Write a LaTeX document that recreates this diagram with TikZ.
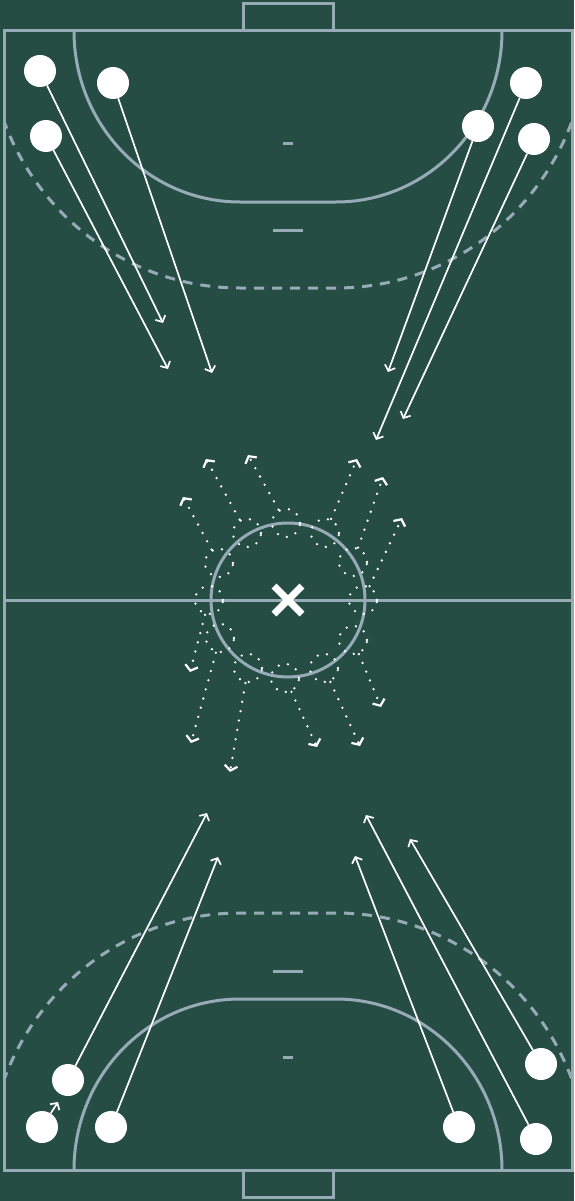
\documentclass[tikz,border=0pt]{standalone}
\usepackage{xcolor}
\usepackage{tikz}
\usetikzlibrary{arrows.meta}

\definecolor{pitch}{HTML}{264D43}
\definecolor{chalk}{HTML}{97ABB7}

\begin{document}
\begin{tikzpicture}[x=1pt, y=-1pt, court/.style={draw=chalk, line width=3pt}, nine/.style={court, dash pattern=on 10pt off 8pt}, player/.style={circle, fill=white, minimum size=32pt, inner sep=0pt}, run/.style={-{Straight Barb[length=5pt,width=11pt]}, draw=white, line width=1.7pt}, curl/.style={circle, draw=white, line width=2.6pt, line cap=round, dash pattern=on 0pt off 9.5pt, minimum size=28pt, inner sep=0pt}, dribble/.style={-{Straight Barb[length=5pt,width=13pt,line width=2.2pt]}, draw=white, line width=2.6pt, line cap=round, dash pattern=on 0pt off 9.5pt}]
\fill[pitch] (0,0) rectangle (574,1201);
\useasboundingbox (0,0) rectangle (574,1201);

% court
\draw[court] (4,31) rectangle (572,1170);
\draw[court] (243,31) -- (243,4) -- (333,4) -- (333,31);
\draw[court] (243,1170) -- (243,1197) -- (333,1197) -- (333,1170);
\draw[court] (4,600) -- (572,600);
\draw[court] (288,600) circle (77);
\draw[court] (74,31) arc[start angle=180, end angle=90, x radius=166, y radius=171] -- (336,202) arc[start angle=90, end angle=0, x radius=166, y radius=171];
\draw[court] (74,1170) arc[start angle=180, end angle=270, x radius=166, y radius=171] -- (336,999) arc[start angle=270, end angle=360, x radius=166, y radius=171];
\begin{scope}
\clip (4,31) rectangle (572,1170);
\draw[nine] (-12,31) arc[start angle=180, end angle=90, x radius=252, y radius=257] -- (336,288) arc[start angle=90, end angle=0, x radius=252, y radius=257];
\draw[nine] (-12,1170) arc[start angle=180, end angle=270, x radius=252, y radius=257] -- (336,913) arc[start angle=270, end angle=360, x radius=252, y radius=257];
\end{scope}
\draw[court] (273,230) -- (303,230) (283,144) -- (293,144);
\draw[court] (273,971) -- (303,971) (283,1057) -- (293,1057);
\draw[white, line width=7pt] (274,586) -- (302,614) (274,614) -- (302,586);

% dribbles round the centre circle
\node[curl] (l1) at (219,563) {};
\node[curl] (l2) at (247,533) {};
\node[curl] (l3) at (286,523) {};
\node[curl] (l4) at (325,533) {};
\node[curl] (l5) at (353,562) {};
\node[curl] (l6) at (363,600) {};
\node[curl] (l7) at (353,640) {};
\node[curl] (l8) at (324,668) {};
\node[curl] (l9) at (285,678) {};
\node[curl] (l10) at (248,668) {};
\node[curl] (l11) at (220,638) {};
\node[curl] (l12) at (209,600) {};
\coordinate (d1) at (183,497);
\coordinate (d2) at (206,459);
\coordinate (d3) at (248,455);
\coordinate (d4) at (357,459);
\coordinate (d5) at (383,477);
\coordinate (d6) at (402,518);
\coordinate (d7) at (381,707);
\coordinate (d8) at (360,746);
\coordinate (d9) at (317,747);
\coordinate (d10) at (230,772);
\coordinate (d11) at (191,743);
\coordinate (d12) at (190,672);
\draw[dribble] (l1) -- (d1);
\draw[dribble] (l2) -- (d2);
\draw[dribble] (l3) -- (d3);
\draw[dribble] (l4) -- (d4);
\draw[dribble] (l5) -- (d5);
\draw[dribble] (l6) -- (d6);
\draw[dribble] (l7) -- (d7);
\draw[dribble] (l8) -- (d8);
\draw[dribble] (l9) -- (d9);
\draw[dribble] (l10) -- (d10);
\draw[dribble] (l11) -- (d11);
\draw[dribble] (l12) -- (d12);

% top team
\node[player] (ta) at (40,71) {};
\node[player] (tb) at (113,83) {};
\node[player] (tc) at (46,136) {};
\node[player] (td) at (526,83) {};
\node[player] (te) at (478,126) {};
\node[player] (tf) at (534,139) {};
\coordinate (ra) at (163,323);
\coordinate (rb) at (212,373);
\coordinate (rc) at (168,369);
\coordinate (rd) at (376,440);
\coordinate (re) at (388,372);
\coordinate (rf) at (403,419);
\draw[run] (ta) -- (ra);
\draw[run] (tb) -- (rb);
\draw[run] (tc) -- (rc);
\draw[run] (td) -- (rd);
\draw[run] (te) -- (re);
\draw[run] (tf) -- (rf);

% bottom team
\node[player] (ba) at (68,1080) {};
\node[player] (bb) at (42,1127) {};
\node[player] (bc) at (111,1127) {};
\node[player] (bd) at (459,1127) {};
\node[player] (be) at (541,1064) {};
\node[player] (bf) at (536,1139) {};
\coordinate (sa) at (207,813);
\coordinate (sb) at (58,1102);
\coordinate (sc) at (218,857);
\coordinate (sd) at (355,856);
\coordinate (se) at (410,839);
\coordinate (sf) at (366,815);
\draw[run] (ba) -- (sa);
\draw[run] (bb) -- (sb);
\draw[run] (bc) -- (sc);
\draw[run] (bd) -- (sd);
\draw[run] (be) -- (se);
\draw[run] (bf) -- (sf);
\end{tikzpicture}
\end{document}
